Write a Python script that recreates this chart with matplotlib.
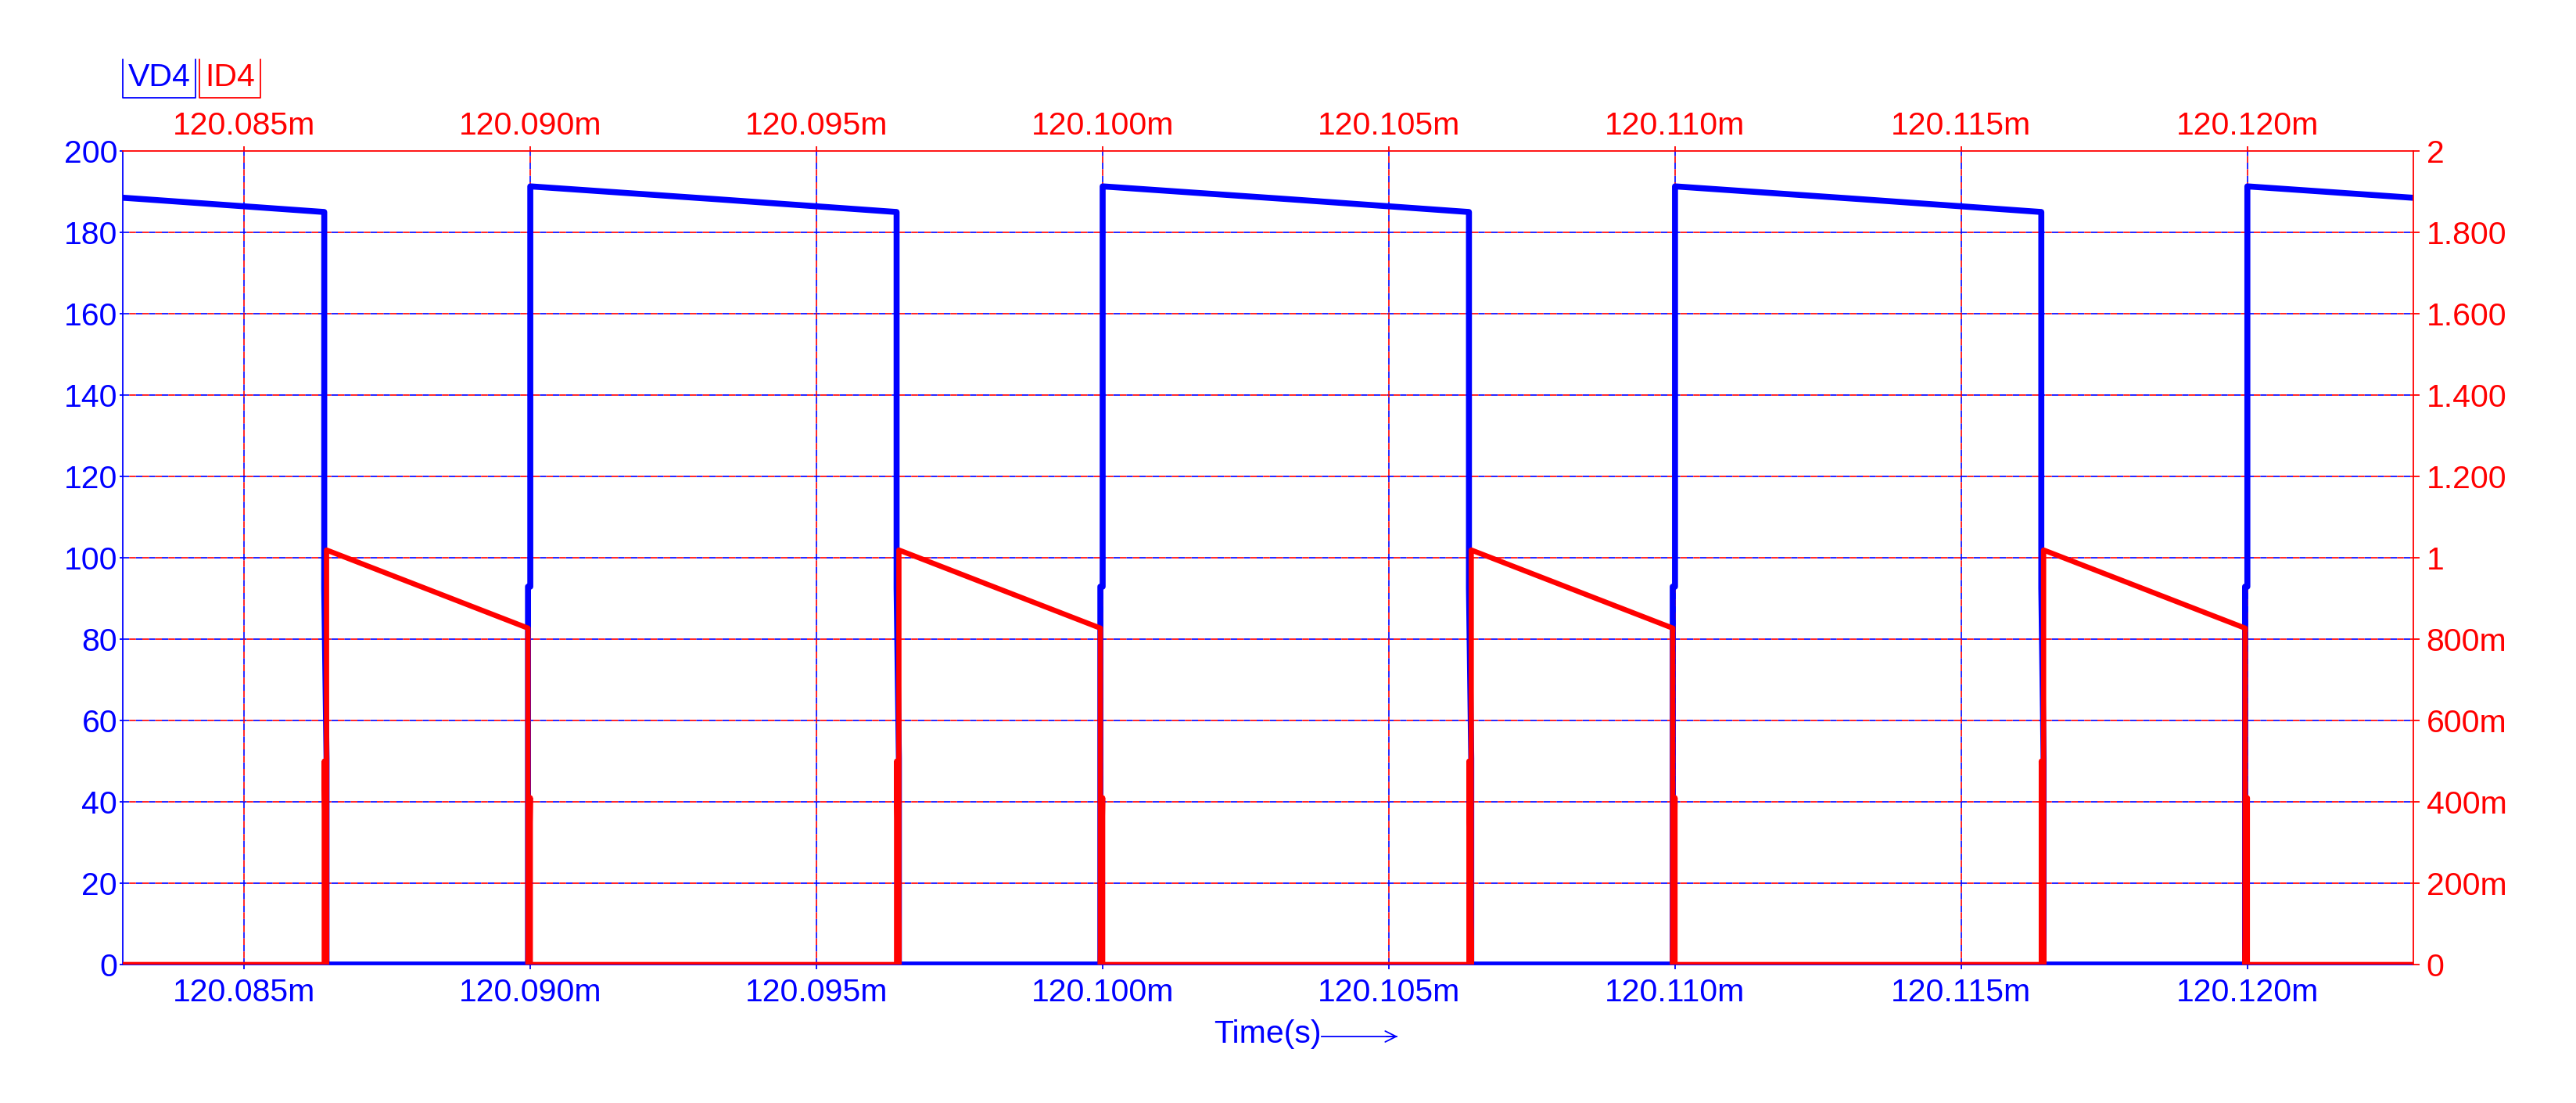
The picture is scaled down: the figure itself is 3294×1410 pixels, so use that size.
import matplotlib
matplotlib.use('Agg')
import matplotlib.pyplot as plt
from matplotlib.ticker import FixedLocator, FixedFormatter, FuncFormatter
from matplotlib.lines import Line2D

plt.rcParams['font.family'] = ['Liberation Sans', 'DejaVu Sans']

# time in ms
rise_t = [120.080, 120.090, 120.100, 120.110, 120.120]       # diode turns off, VD4 jumps up
drop_t = [120.0864, 120.0964, 120.1064, 120.1164, 120.1264]  # diode turns on, VD4 falls
eps = 0.00004

# VD4 (V) levels
vd_top = 191.3
vd_mid = 188.2
vd_bot = 185.0
vd_fall_steps = [92.6, 50.7]
vd_rise_step = 92.9

# ID4 (A)
id_peak = 1.019
id_end = 0.827
id_on_spike = 0.50
id_off_spike = 0.41

xticks = [120.085, 120.090, 120.095, 120.100, 120.105, 120.110, 120.115, 120.120]
yticks_l = [0, 20, 40, 60, 80, 100, 120, 140, 160, 180, 200]
yticks_r = [0, 0.2, 0.4, 0.6, 0.8, 1.0, 1.2, 1.4, 1.6, 1.8, 2.0]
ylabels_r = ['0', '200m', '400m', '600m', '800m', '1', '1.200', '1.400', '1.600', '1.800', '2']
xmin, xmax = 120.08288, 120.12290

BLUE = '#0000ff'
RED = '#ff0000'
FS = 29.5

# build waveforms
tv, v = [], []
for r, d in zip(rise_t, drop_t):
    tv += [r - eps, r - eps, r, r, (r + d) / 2, d, d, d + eps, d + eps]
    v += [0, vd_rise_step, vd_rise_step, vd_top, vd_mid, vd_bot,
          vd_fall_steps[0], vd_fall_steps[1], 0]

ti, cur = [rise_t[0]], [0]
for d, rn in zip(drop_t[:-1], rise_t[1:]):
    ti += [d, d, d + eps, d + eps, rn - eps, rn - eps, rn, rn]
    cur += [0, id_on_spike, 0, id_peak, id_end, 0, id_off_spike, 0]
ti.append(xmax + 0.001)
cur.append(0)

fig = plt.figure(figsize=(32.94, 14.10), dpi=100)
ax = fig.add_axes([157 / 3294, 1 - 1233 / 1410, (3086 - 157) / 3294, (1233 - 193) / 1410])
ax2 = ax.twinx()

ax.set_xlim(xmin, xmax)
ax.set_ylim(0, 200)
ax2.set_ylim(0, 2)

# dashed two-colour grid
for y in yticks_l[1:-1]:
    ax.axhline(y, color=BLUE, lw=1.2, ls=(0, (5, 5)), zorder=0.5)
    ax.axhline(y, color=RED, lw=1.2, ls=(5, (5, 5)), zorder=0.5)
for x in xticks:
    ax.axvline(x, color=BLUE, lw=1.2, ls=(0, (5, 5)), zorder=0.5)
    ax.axvline(x, color=RED, lw=1.2, ls=(5, (5, 5)), zorder=0.5)

ax.plot(tv, v, color=BLUE, lw=5.5, solid_joinstyle='round', zorder=3)
ax2.plot(ti, cur, color=RED, lw=4.8, solid_joinstyle='round', zorder=3)

# axes styling
for s in ['left', 'bottom']:
    ax.spines[s].set_color(BLUE)
    ax.spines[s].set_linewidth(1.3)
for s in ['top', 'right']:
    ax.spines[s].set_visible(False)
ax2.spines['left'].set_visible(False)
ax2.spines['bottom'].set_visible(False)
for s in ['top', 'right']:
    ax2.spines[s].set_color(RED)
    ax2.spines[s].set_linewidth(1.3)

ax.xaxis.set_major_locator(FixedLocator(xticks))
ax.xaxis.set_major_formatter(FuncFormatter(lambda x, _: f'{x:.3f}m'))
ax.tick_params(axis='x', colors=BLUE, labelsize=FS, length=4, width=1.3, pad=8)
ax.yaxis.set_major_locator(FixedLocator(yticks_l))
ax.tick_params(axis='y', colors=BLUE, labelsize=FS, length=3, width=1.3, pad=2)

ax2.yaxis.set_major_locator(FixedLocator(yticks_r))
ax2.yaxis.set_major_formatter(FixedFormatter(ylabels_r))
ax2.tick_params(axis='y', colors=RED, labelsize=FS, length=6, width=1.3, pad=6)

top = ax.secondary_xaxis('top')
top.xaxis.set_major_locator(FixedLocator(xticks))
top.xaxis.set_major_formatter(FuncFormatter(lambda x, _: f'{x:.3f}m'))
top.tick_params(axis='x', colors=RED, labelsize=FS, length=4, width=1.3, pad=5)
top.spines['top'].set_visible(False)

# x label with arrow
fig.text(1552 / 3294, 1 - 1322 / 1410, 'Time(s)', color=BLUE, fontsize=FS, ha='left', va='center')
fig.add_artist(Line2D([1690 / 3294, 1786 / 3294], [1 - 1325 / 1410] * 2, color=BLUE, lw=1.3,
                      transform=fig.transFigure))
ax.annotate('', xy=(1790 / 3294, 1 - 1325 / 1410), xytext=(1770 / 3294, 1 - 1325 / 1410),
            xycoords='figure fraction', textcoords='figure fraction',
            arrowprops=dict(arrowstyle='->', color=BLUE, lw=1.3, mutation_scale=25))

# legend boxes (open at top)
def tag(x0, x1, label, col):
    y0, y1 = 1 - 76 / 1410, 1 - 125 / 1410
    fig.add_artist(Line2D([x0 / 3294, x0 / 3294, x1 / 3294, x1 / 3294], [y0, y1, y1, y0],
                          color=col, lw=1.3, transform=fig.transFigure))
    fig.text((x0 + x1) / 2 / 3294, 1 - 99 / 1410, label, color=col, fontsize=FS,
             ha='center', va='center')

tag(157, 250, 'VD4', BLUE)
tag(255, 333, 'ID4', RED)

fig.savefig('out.png', dpi=100)
